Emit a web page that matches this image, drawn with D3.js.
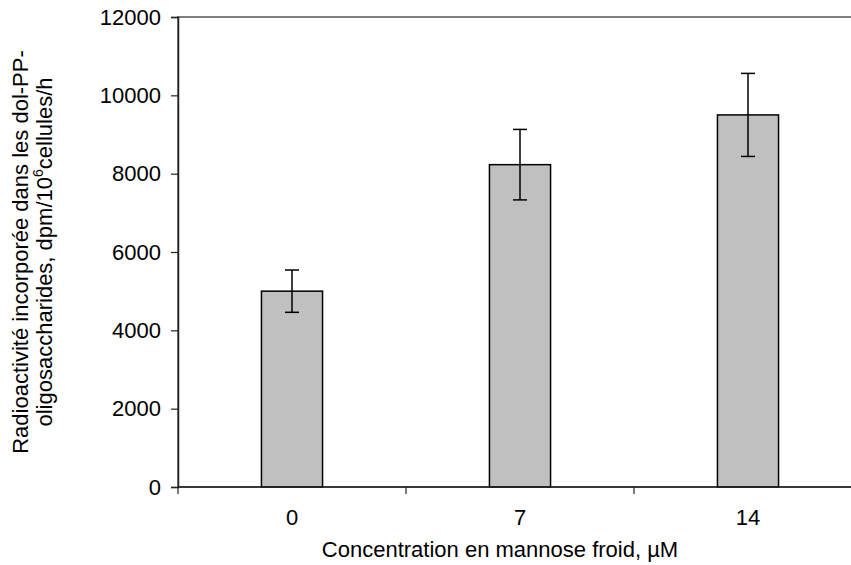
<!DOCTYPE html>
<html>
<head>
<meta charset="utf-8">
<script src="https://cdn.jsdelivr.net/npm/d3@7"></script>
<style>
  body { margin: 0; background: #fff; }
  text { font-family: "Liberation Sans", Arial, sans-serif; fill: #000; }
</style>
</head>
<body>
<svg id="chart" width="851" height="565"></svg>
<script>
// values
var categories = ["0", "7", "14"];
var means = [5000, 8230, 9500];
var errors = [540, 900, 1060];
var yTicks = [0, 2000, 4000, 6000, 8000, 10000, 12000];

var svg = d3.select("#chart");
var fontSize = "22px";

// plot area (right edge runs off the picture, like the original)
var plotLeft = 178, plotRight = 862, plotTop = 17, plotBottom = 487;

var x = d3.scaleBand()
    .domain(categories)
    .range([plotLeft, plotRight])
    .paddingInner(0.732)
    .paddingOuter(0.366);

var y = d3.scaleLinear()
    .domain([0, 12000])
    .range([plotBottom, plotTop]);

var step = x.step();

// plot area border (gray)
svg.append("rect")
    .attr("x", plotLeft)
    .attr("y", plotTop)
    .attr("width", plotRight - plotLeft)
    .attr("height", plotBottom - plotTop)
    .attr("fill", "none")
    .attr("stroke", "#808080")
    .attr("stroke-width", 2);

// bars
svg.selectAll("rect.bar")
    .data(means)
  .enter().append("rect")
    .attr("class", "bar")
    .attr("x", function(d, i) { return x(categories[i]); })
    .attr("y", function(d) { return y(d); })
    .attr("width", x.bandwidth())
    .attr("height", function(d) { return y(0) - y(d); })
    .attr("fill", "#c0c0c0")
    .attr("stroke", "#000")
    .attr("stroke-width", 1.5);

// error bars
var capW = 7;
var eb = svg.selectAll("g.err")
    .data(means)
  .enter().append("g")
    .attr("class", "err")
    .attr("transform", function(d, i) { return "translate(" + (x(categories[i]) + x.bandwidth() / 2) + ",0)"; });

eb.append("line")
    .attr("y1", function(d, i) { return y(d + errors[i]); })
    .attr("y2", function(d, i) { return y(d - errors[i]); })
    .attr("stroke", "#000").attr("stroke-width", 1.5);
eb.append("line")
    .attr("x1", -capW).attr("x2", capW)
    .attr("y1", function(d, i) { return y(d + errors[i]); })
    .attr("y2", function(d, i) { return y(d + errors[i]); })
    .attr("stroke", "#000").attr("stroke-width", 1.5);
eb.append("line")
    .attr("x1", -capW).attr("x2", capW)
    .attr("y1", function(d, i) { return y(d - errors[i]); })
    .attr("y2", function(d, i) { return y(d - errors[i]); })
    .attr("stroke", "#000").attr("stroke-width", 1.5);

// y axis
var yAxis = svg.append("g")
    .attr("transform", "translate(" + plotLeft + ",0)")
    .call(d3.axisLeft(y).tickValues(yTicks).tickSize(7).tickPadding(10).tickFormat(d3.format("d")));
yAxis.select(".domain").attr("stroke", "#222").attr("stroke-width", 1.5);
yAxis.selectAll(".tick line").attr("stroke", "#222").attr("stroke-width", 1.2);
yAxis.selectAll("text").style("font-size", fontSize).attr("fill", "#000");

// x axis: line, ticks on the category boundaries, labels in the middle
var boundaries = [plotLeft].concat(categories.map(function(c) { return x(c) + x.bandwidth() / 2 + step / 2; }));
var xg = svg.append("g");
xg.append("line")
    .attr("x1", plotLeft).attr("x2", plotRight)
    .attr("y1", plotBottom).attr("y2", plotBottom)
    .attr("stroke", "#222").attr("stroke-width", 1.5);
xg.selectAll("line.tick")
    .data(boundaries)
  .enter().append("line")
    .attr("class", "tick")
    .attr("x1", function(d) { return d; }).attr("x2", function(d) { return d; })
    .attr("y1", plotBottom).attr("y2", plotBottom + 7)
    .attr("stroke", "#222").attr("stroke-width", 1.2);
xg.selectAll("text")
    .data(categories)
  .enter().append("text")
    .attr("x", function(d) { return x(d) + x.bandwidth() / 2; })
    .attr("y", 525)
    .attr("text-anchor", "middle")
    .style("font-size", fontSize)
    .text(function(d) { return d; });

// axis titles
svg.append("text")
    .attr("x", 500)
    .attr("y", 557)
    .attr("text-anchor", "middle")
    .style("font-size", fontSize)
    .text("Concentration en mannose froid, \u00b5M");

var yt = svg.append("text")
    .attr("transform", "translate(28,252) rotate(-90)")
    .attr("text-anchor", "middle")
    .style("font-size", fontSize);
yt.append("tspan")
    .attr("x", 0).attr("y", 0)
    .text("Radioactivit\u00e9 incorpor\u00e9e dans les dol-PP-");
var l2 = yt.append("tspan").attr("x", 0).attr("y", 24);
l2.append("tspan").text("oligosaccharides, dpm/10");
l2.append("tspan").attr("dy", -9).style("font-size", "14px").text("6");
l2.append("tspan").attr("dy", 9).text("cellules/h");
</script>
</body>
</html>
